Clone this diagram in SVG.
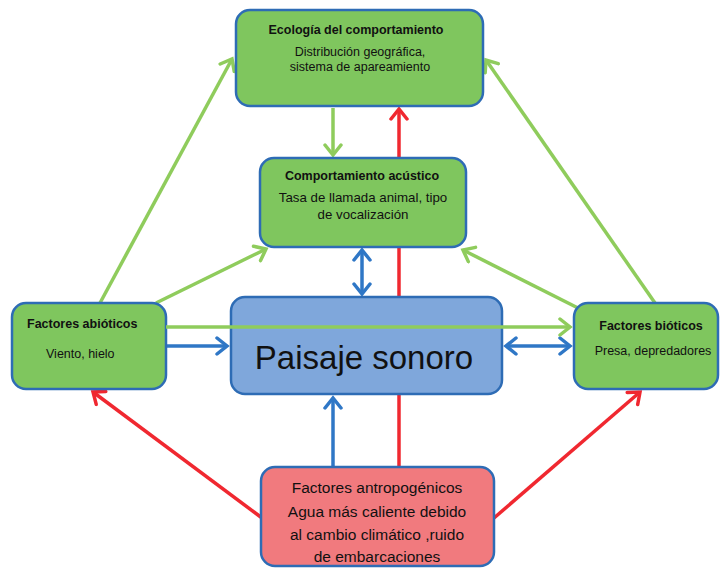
<svg xmlns="http://www.w3.org/2000/svg" width="720" height="569" viewBox="0 0 720 569">
<style>
.g{fill:#7fc65e;stroke:#2e6cb5;stroke-width:2.5}
.b{fill:#7fa7db;stroke:#2e6cb5;stroke-width:2.5}
.r{fill:#f17a7e;stroke:#2e6cb5;stroke-width:2.5}
.lg{stroke:#8fcc5c;stroke-width:3.5;fill:none}
.lb{stroke:#2f77c6;stroke-width:3.5;fill:none}
.lr{stroke:#f02830;stroke-width:3.5;fill:none}
text{font-family:"Liberation Sans",Arial,sans-serif;fill:#111}
.t{font-weight:bold;font-size:12.5px}
.s{font-size:12.5px}
.m{font-size:13.3px}
.big{font-size:33px}
.a{font-size:15.5px}
</style>
<defs>
<marker id="ag" markerUnits="userSpaceOnUse" markerWidth="22" markerHeight="22" refX="12" refY="10" orient="auto-start-reverse" viewBox="0 0 22 22"><path d="M2,2 L12,10 L2,18" fill="none" stroke="#8fcc5c" stroke-width="3.5" stroke-linecap="round"/></marker>
<marker id="ab" markerUnits="userSpaceOnUse" markerWidth="22" markerHeight="22" refX="12" refY="10" orient="auto-start-reverse" viewBox="0 0 22 22"><path d="M2,2 L12,10 L2,18" fill="none" stroke="#2f77c6" stroke-width="3.5" stroke-linecap="round"/></marker>
<marker id="ar" markerUnits="userSpaceOnUse" markerWidth="22" markerHeight="22" refX="12" refY="10" orient="auto-start-reverse" viewBox="0 0 22 22"><path d="M2,2 L12,10 L2,18" fill="none" stroke="#f02830" stroke-width="3.5" stroke-linecap="round"/></marker>
</defs>
<rect width="720" height="569" fill="#fff"/>
<g id="connectors">
<line class="lr" x1="399" y1="466" x2="399" y2="109" marker-end="url(#ar)"/>
<line class="lg" x1="333" y1="108" x2="333" y2="155" marker-end="url(#ag)"/>
<line class="lb" x1="362" y1="250" x2="362" y2="294" marker-start="url(#ab)" marker-end="url(#ab)"/>
<line class="lb" x1="333" y1="466" x2="333" y2="398" marker-end="url(#ab)"/>
<line class="lg" x1="100" y1="303" x2="232" y2="59" marker-end="url(#ag)"/>
<line class="lg" x1="156" y1="303" x2="266" y2="249" marker-end="url(#ag)"/>
<line class="lg" x1="655" y1="303" x2="486" y2="60" marker-end="url(#ag)"/>
<line class="lg" x1="578" y1="308" x2="463" y2="250" marker-end="url(#ag)"/>
<line class="lb" x1="166" y1="346" x2="227" y2="346" marker-end="url(#ab)"/>
<line class="lb" x1="506" y1="346" x2="570" y2="346" marker-start="url(#ab)" marker-end="url(#ab)"/>
<line class="lr" x1="262" y1="518" x2="93" y2="392" marker-end="url(#ar)"/>
<line class="lr" x1="494" y1="518" x2="640" y2="392" marker-end="url(#ar)"/>
</g>
<g id="ecologia">
<rect class="g" x="236" y="10" width="247" height="96" rx="14"/>
<text class="t" x="356" y="34" text-anchor="middle">Ecología del comportamiento</text>
<text class="s" x="360" y="56" text-anchor="middle">Distribución geográfica,</text>
<text class="s" x="360" y="71" text-anchor="middle">sistema de apareamiento</text>
</g>
<g id="acustico">
<rect class="g" x="260" y="158" width="206" height="89" rx="14"/>
<text class="t" x="362" y="180" text-anchor="middle">Comportamiento acústico</text>
<text class="m" x="363" y="202" text-anchor="middle">Tasa de llamada animal, tipo</text>
<text class="m" x="363" y="219" text-anchor="middle">de vocalización</text>
</g>
<g id="abioticos">
<rect class="g" x="12" y="303" width="154" height="86" rx="14"/>
<text class="t" x="27" y="328">Factores abióticos</text>
<text class="s" x="46" y="358">Viento, hielo</text>
</g>
<g id="bioticos">
<rect class="g" x="574" y="303" width="144" height="86" rx="14"/>
<text class="t" x="651" y="330" text-anchor="middle">Factores bióticos</text>
<text class="s" x="653" y="355" text-anchor="middle">Presa, depredadores</text>
</g>
<g id="paisaje">
<rect class="b" x="231" y="297" width="271" height="97" rx="14"/>
<text class="big" x="364" y="369" text-anchor="middle">Paisaje sonoro</text>
</g>
<line class="lg" x1="166" y1="327" x2="570" y2="327" marker-end="url(#ag)"/>
<g id="antropogenicos">
<rect class="r" x="261" y="467" width="233" height="99" rx="14"/>
<text class="a" x="377" y="493" text-anchor="middle">Factores antropogénicos</text>
<text class="a" x="377" y="517" text-anchor="middle">Agua más caliente debido</text>
<text class="a" x="377" y="540" text-anchor="middle">al cambio climático ,ruido</text>
<text class="a" x="377" y="562" text-anchor="middle">de embarcaciones</text>
</g>
</svg>
